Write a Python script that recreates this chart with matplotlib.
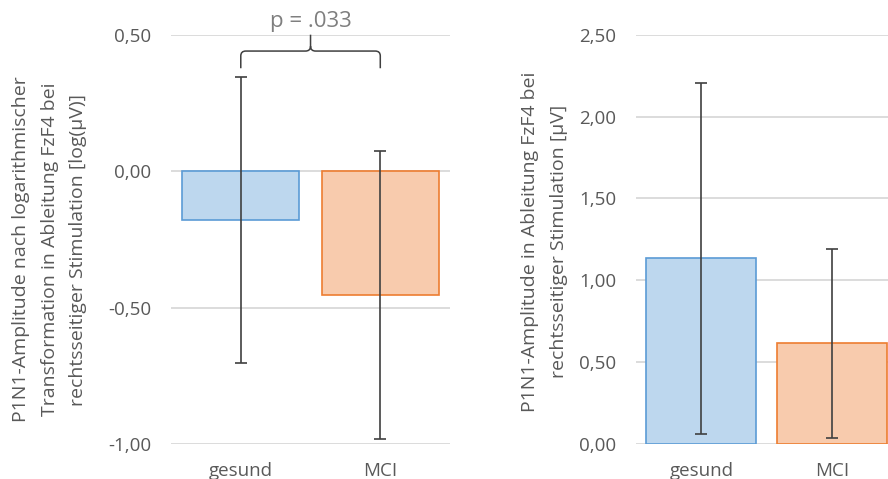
import matplotlib.pyplot as plt
from matplotlib.path import Path
from matplotlib.patches import PathPatch

# group names and values (mean, +/- error)
groups = ["gesund", "MCI"]
log_means = [-0.18, -0.455]
log_errs = [0.525, 0.527]
raw_means = [1.134, 0.616]
raw_errs = [1.073, 0.578]
p_text = "p = .033"

log_ticks = [-1.0, -0.5, 0.0, 0.5]
raw_ticks = [0.0, 0.5, 1.0, 1.5, 2.0, 2.5]

FILL = ["#BDD7EE", "#F8CBAD"]
EDGE = ["#5B9BD5", "#ED7D31"]
TEXT = "#595959"
GRID = "#D9D9D9"
ERR = "#404040"
FONT = "Open Sans"
FS_TICK = 13.5
FS_LABEL = 14

plt.rcParams["font.family"] = [FONT, "DejaVu Sans"]

fig = plt.figure(figsize=(8.88, 4.79), dpi=100)
ax1 = fig.add_axes([0.1926, 0.0731, 0.3142, 0.8545])
ax2 = fig.add_axes([0.7162, 0.0731, 0.2950, 0.8545])


def fmt(v):
    return f"{v:.2f}".replace(".", ",")


def draw(ax, means, errs, ticks, ylabel, labelx, labely):
    x = range(len(groups))
    ax.bar(x, means, width=0.84, color=FILL, edgecolor=EDGE, linewidth=1.2, zorder=2)
    ax.errorbar(x, means, yerr=errs, fmt="none", ecolor=ERR, elinewidth=1.2,
                capsize=4, capthick=1.2, zorder=3)
    ax.set_xlim(-0.5, 1.5)
    ax.set_ylim(ticks[0], ticks[-1])
    ax.set_yticks(ticks)
    ax.set_yticklabels([fmt(t) for t in ticks])
    ax.set_xticks(list(x))
    ax.set_xticklabels(groups)
    ax.tick_params(axis="both", length=0, labelsize=FS_TICK, labelcolor=TEXT)
    ax.tick_params(axis="y", pad=14)
    ax.tick_params(axis="x", pad=13)
    for s in ax.spines.values():
        s.set_visible(False)
    ax.grid(axis="y", color=GRID, linewidth=1.3, zorder=0)
    ax.set_axisbelow(True)
    ax.set_ylabel(ylabel, fontsize=FS_LABEL, color=TEXT, linespacing=1.75)
    ax.yaxis.set_label_coords(labelx, labely)


draw(ax1, log_means, log_errs, log_ticks,
     "P1N1-Amplitude nach logarithmischer\nTransformation in Ableitung FzF4 bei\nrechtsseitiger Stimulation [log(µV)]",
     -0.30, 0.475)
draw(ax2, raw_means, raw_errs, raw_ticks,
     "P1N1-Amplitude in Ableitung FzF4 bei\nrechtsseitiger Stimulation [µV]",
     -0.26, 0.495)

# curly brace between the two groups in the left panel
x0, x1, xm = 0.0, 1.0, 0.5
y_end, y_bar, y_tip = 0.377, 0.44, 0.50
rx, ry = 0.036, 0.018
verts = [
    (x0, y_end), (x0, y_bar - ry), (x0, y_bar), (x0 + rx, y_bar),
    (xm - rx, y_bar), (xm, y_bar), (xm, y_bar + ry), (xm, y_tip),
    (xm, y_bar + ry), (xm, y_bar), (xm + rx, y_bar),
    (x1 - rx, y_bar), (x1, y_bar), (x1, y_bar - ry), (x1, y_end),
]
codes = [
    Path.MOVETO, Path.LINETO, Path.CURVE3, Path.CURVE3,
    Path.LINETO, Path.CURVE3, Path.CURVE3, Path.LINETO,
    Path.MOVETO, Path.CURVE3, Path.CURVE3,
    Path.LINETO, Path.CURVE3, Path.CURVE3, Path.LINETO,
]
ax1.add_patch(PathPatch(Path(verts, codes), facecolor="none", edgecolor=ERR,
                        linewidth=1.1, clip_on=False, zorder=4))
ax1.text(xm, 0.548, p_text, ha="center", va="center", fontsize=16,
         color="#7F7F7F", clip_on=False)

fig.savefig("out.png", dpi=100, facecolor="white")
